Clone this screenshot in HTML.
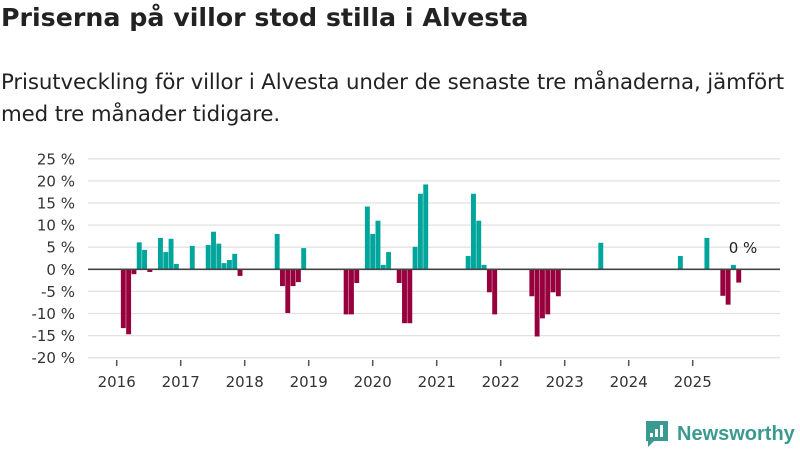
<!DOCTYPE html>
<html><head><meta charset="utf-8"><style>
body{margin:0;background:#fff;font-family:"DejaVu Sans","Liberation Sans",sans-serif;}
#wrap{position:relative;width:800px;height:450px;overflow:hidden;}
h1{position:absolute;left:1px;top:3px;margin:0;font-size:25.3px;font-weight:bold;color:#222;letter-spacing:0px;}
p.sub{position:absolute;left:1px;top:67px;margin:0;font-size:21.3px;line-height:32px;color:#222;width:800px;letter-spacing:-0.1px;white-space:nowrap;}
svg{position:absolute;left:0;top:0;}
</style></head><body>
<div id="wrap">
<h1>Priserna på villor stod stilla i Alvesta</h1>
<p class="sub">Prisutveckling för villor i Alvesta under de senaste tre månaderna, jämfört<br>med tre månader tidigare.</p>
<svg id="chart" width="800" height="450"></svg>
</div>
<script>
const monthIndex=[0,1,2,3,4,5,7,8,9,10,13,16,17,18,19,20,21,22,29,30,31,32,33,34,42,43,44,46,47,48,49,50,52,53,54,55,56,57,65,66,67,68,69,70,77,78,79,80,81,82,90,105,110,113,114,115,116];
const values=[-13.3,-14.7,-1.1,6.1,4.4,-0.6,7.1,3.9,6.9,1.2,5.3,5.5,8.5,5.8,1.4,2.1,3.5,-1.5,8.0,-3.8,-9.9,-3.8,-2.9,4.8,-10.2,-10.2,-3.1,14.2,8.0,11.0,1.0,3.9,-3.1,-12.2,-12.2,5.1,17.1,19.2,3.0,17.1,11.0,1.0,-5.2,-10.2,-6.1,-15.2,-11.1,-10.2,-5.2,-6.1,6.0,3.0,7.1,-6.0,-8.0,1.0,-3.0];
const yTicks=[25,20,15,10,5,0,-5,-10,-15,-20];
const yTickLabels=["25 %","20 %","15 %","10 %","5 %","0 %","-5 %","-10 %","-15 %","-20 %"];
const years=[2016,2017,2018,2019,2020,2021,2022,2023,2024,2025];
const svg=document.getElementById('chart');
const NS='http://www.w3.org/2000/svg';
const y0=269.3, pxPer=4.42, x2016=116.7, mw=64/12;
const y=v=>y0-v*pxPer;
const xm=i=>x2016+(i+0.78)*mw-0.028*i;
function mk(t,a){const e=document.createElementNS(NS,t);for(const k in a)e.setAttribute(k,a[k]);svg.appendChild(e);return e;}
yTicks.forEach((v,i)=>{
 const g=mk('line',{x1:88,x2:780,y1:y(v),y2:y(v),stroke:'#e2e2e2','stroke-width':1.3});
 
 
 const t=mk('text',{x:75,y:y(v)+5.5,'text-anchor':'end','font-size':15,fill:'#333'});
 t.textContent=yTickLabels[i];
 
 
});
years.forEach((yr,i)=>{
 const x=x2016+i*64;
 const tk=mk('line',{x1:x,x2:x,y1:360,y2:366,stroke:'#555','stroke-width':1.5});
 
 
 const t=mk('text',{x:x,y:387,'text-anchor':'middle','font-size':15,fill:'#333'});
 t.textContent=yr;
 
 
});
values.forEach((v,i)=>{
 const x=xm(monthIndex[i]);
 const top=Math.min(y(v),y0), h=Math.abs(y(v)-y0);
 const r=mk('rect',{x:x,y:top,width:4.9,height:h,fill:v>=0?'#00a59b':'#97003c'});
 
 
});
const zl=mk('line',{x1:88,x2:780,y1:y0,y2:y0,stroke:'#444','stroke-width':1.6});


const lbl=mk('text',{x:743,y:253,'text-anchor':'middle','font-size':15,fill:'#222'});
lbl.textContent='0 %';


const logo=mk('g',{});


const ic=mk('path',{d:'M646 421h22v20h-14l-6 6v-6h-2z',fill:'#3a9a8f'});


[[650,433,3],[655,429,3],[660,425,3]].forEach(b=>{const r=mk('rect',{x:b[0],y:b[1],width:3,height:437-b[1],fill:'#fff'});});
const lt=mk('text',{x:677,y:440,'font-size':20,'font-weight':'bold',fill:'#3a9a8f','font-family':'Liberation Sans, sans-serif'});
lt.textContent='Newsworthy';


</script>
</body></html>
